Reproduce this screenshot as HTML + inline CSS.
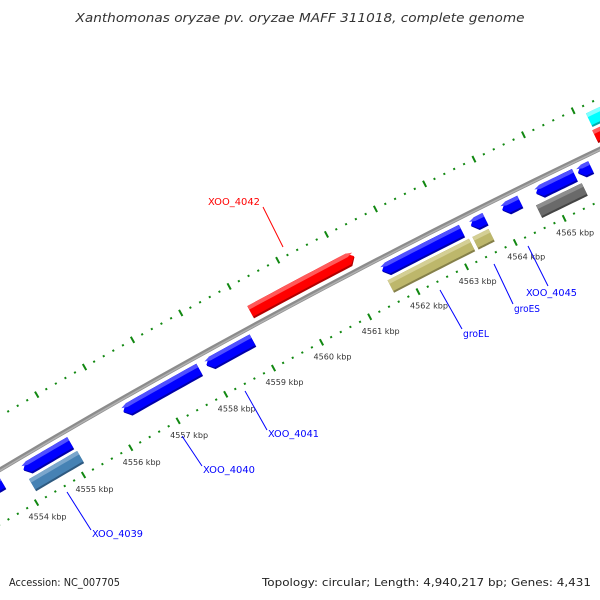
<!DOCTYPE html>
<html><head><meta charset="utf-8"><style>
html,body{margin:0;padding:0;background:#fff;}
svg{display:block;font-family:"DejaVu Sans","Liberation Sans",sans-serif;}
</style></head><body>
<svg id="map" width="600" height="600" viewBox="0 0 600 600" xmlns="http://www.w3.org/2000/svg">
<rect x="0" y="0" width="600" height="600" fill="#fff"/>
<text x="300" y="22" text-anchor="middle" font-size="12" font-style="italic" fill="#333" textLength="449" lengthAdjust="spacingAndGlyphs">Xanthomonas oryzae pv. oryzae MAFF 311018, complete genome</text>
<g id="ticks"></g>
<g id="backbone"></g>
<g id="genes"></g>
<g id="kbplabels"></g>
<g>
<line x1="67" y1="492" x2="91" y2="530" stroke="#00f" stroke-width="1"/>
<text x="92" y="537" font-size="10" fill="#00f" textLength="51" lengthAdjust="spacingAndGlyphs">XOO_4039</text>
<line x1="182" y1="436" x2="202" y2="466" stroke="#00f" stroke-width="1"/>
<text x="203" y="473" font-size="10" fill="#00f" textLength="52" lengthAdjust="spacingAndGlyphs">XOO_4040</text>
<line x1="245" y1="391" x2="267" y2="430" stroke="#00f" stroke-width="1"/>
<text x="268" y="437" font-size="10" fill="#00f" textLength="51" lengthAdjust="spacingAndGlyphs">XOO_4041</text>
<line x1="263" y1="207" x2="283" y2="247" stroke="#f00" stroke-width="1"/>
<text x="208" y="205" font-size="10" fill="#f00" textLength="52" lengthAdjust="spacingAndGlyphs">XOO_4042</text>
<line x1="440" y1="290" x2="462" y2="329" stroke="#00f" stroke-width="1"/>
<text x="463" y="337" font-size="10" fill="#00f" textLength="26" lengthAdjust="spacingAndGlyphs">groEL</text>
<line x1="494" y1="264" x2="513" y2="304" stroke="#00f" stroke-width="1"/>
<text x="514" y="312" font-size="10" fill="#00f" textLength="26" lengthAdjust="spacingAndGlyphs">groES</text>
<line x1="528" y1="246" x2="548" y2="286" stroke="#00f" stroke-width="1"/>
<text x="526" y="296" font-size="10" fill="#00f" textLength="51" lengthAdjust="spacingAndGlyphs">XOO_4045</text>
</g>
<text x="9" y="586" font-size="11" fill="#222" textLength="111" lengthAdjust="spacingAndGlyphs">Accession: NC_007705</text>
<text x="591" y="586" font-size="11" fill="#222" text-anchor="end" textLength="329" lengthAdjust="spacingAndGlyphs">Topology: circular; Length: 4,940,217 bp; Genes: 4,431</text>
</svg>
<script>
// ---- data ----
const geneStart  = [4553.25,4554.10,4554.10,4556.21,4557.95,4559.12,4561.59,4561.60,4563.41,4563.34,4564.05,4564.74,4564.64,4565.59,4566.19,4566.16];
const geneEnd    = [4553.65,4555.09,4555.12,4557.80,4558.91,4561.26,4563.22,4563.27,4563.70,4563.67,4564.41,4565.52,4565.57,4565.85,4567.60,4567.60];
const geneStrand = [-1,-1,0,-1,-1,1,-1,0,-1,0,-1,-1,0,-1,0,1];
const geneRow    = [-1,-1,-2,-1,-1,1,-1,-2,-1,-2,-1,-1,-2,-1,2,1];
const geneColor  = ['blue','blue','steel','blue','blue','red','blue','khaki','blue','khaki','blue','blue','gray','blue','cyan','red'];
const tickKbp    = [4554,4555,4556,4557,4558,4559,4560,4561,4562,4563,4564,4565];
const tickLabels = ['4554 kbp','4555 kbp','4556 kbp','4557 kbp','4558 kbp','4559 kbp','4560 kbp','4561 kbp','4562 kbp','4563 kbp','4564 kbp','4565 kbp'];

// ---- geometry (axis functions) ----
const CX=3807, CY=6870, K0=4560, TH0=-118.1, DPK=0.422;
const R_BB=7447, R_IN=7400, R_OUT=7493;
const ROWS={'-1':[7427,7441],'-2':[7410,7424],'1':[7453,7467],'2':[7470,7485]};
const PAL={blue:['#0000ff','#5050ff','#0000a8'],red:['#ff0000','#ff5a5a','#b00000'],
 steel:['#4682b4','#7aa6cc','#2f5a80'],khaki:['#bdb76b','#d4cf95','#85804a'],
 gray:['#6a6a6a','#8e8e8e','#444'],cyan:['#00ffff','#80ffff','#00b0b0']};
const NS='http://www.w3.org/2000/svg';
function pt(k,r){const t=(TH0+(k-K0)*DPK)*Math.PI/180;return [CX+r*Math.cos(t),CY+r*Math.sin(t)];}
function arcPts(k1,k2,r,n){const a=[];for(let i=0;i<=n;i++){a.push(pt(k1+(k2-k1)*i/n,r));}return a;}
function fmt(a){return a.map(p=>p[0].toFixed(2)+','+p[1].toFixed(2)).join(' ');}

const tg=document.getElementById('ticks');
function tickLine(k,r,half,w){
  const a=pt(k,r-half),b=pt(k,r+half);
  const l=document.createElementNS(NS,'line');
  l.setAttribute('x1',a[0]);l.setAttribute('y1',a[1]);l.setAttribute('x2',b[0]);l.setAttribute('y2',b[1]);
  l.setAttribute('stroke','#118811');l.setAttribute('stroke-width',w);
  
  
  tg.appendChild(l);
}
for(let i=4552*5;i<=4568*5;i++){
  const k=i/5, major=(i%5===0);
  [R_IN,R_OUT].forEach(r=>{ if(major) tickLine(k,r,3.5,2); else tickLine(k,r,1,2); });
}

// backbone
const bg=document.getElementById('backbone');
[[4.5,'#8c8c8c'],[1.5,'#b0b0b0']].forEach(([w,c],i)=>{
  const p=document.createElementNS(NS,'polyline');
  p.setAttribute('points',fmt(arcPts(4552,4568,R_BB-(i?0.8:0),60)));
  p.setAttribute('fill','none');p.setAttribute('stroke',c);p.setAttribute('stroke-width',w);
  
  
  bg.appendChild(p);
});

// genes
const gg=document.getElementById('genes');
const HEAD=0.11;
function shape(k1,k2,ri,ro,dir){
  const n=12, rm=(ri+ro)/2;
  if(dir<0){
    const a=k1+HEAD;
    return [...arcPts(a,k2,ro,n),...arcPts(k2,a,ri,n),pt(k1,rm)];
  } else if(dir>0){
    const b=k2-HEAD;
    return [...arcPts(k1,b,ro,n),pt(k2,rm),...arcPts(b,k1,ri,n)];
  }
  return [...arcPts(k1,k2,ro,n),...arcPts(k2,k1,ri,n)];
}
for(let i=0;i<geneStart.length;i++){
  const [ri,ro]=ROWS[String(geneRow[i])];
  const pal=PAL[geneColor[i]];
  const g=document.createElementNS(NS,'g');
  
  
  const layers=[[ri,ro,pal[2]],[ri+2,ro,pal[0]],[ro-4,ro,pal[1]]];
  layers.forEach(([a,b,c])=>{
    const p=document.createElementNS(NS,'polygon');
    p.setAttribute('points',fmt(shape(geneStart[i],geneEnd[i],a,b,geneStrand[i])));
    p.setAttribute('fill',c);
    
    
    g.appendChild(p);
  });
  gg.appendChild(g);
}

// kbp labels
const kg=document.getElementById('kbplabels');
tickKbp.forEach((k,i)=>{
  const p=pt(k,R_IN);
  const t=document.createElementNS(NS,'text');
  t.setAttribute('x',(p[0]-8).toFixed(1));t.setAttribute('y',(p[1]+17).toFixed(1));
  t.setAttribute('font-size','8');t.setAttribute('fill','#333');
  t.setAttribute('textLength','38');t.setAttribute('lengthAdjust','spacingAndGlyphs');
  t.textContent=tickLabels[i];
  
  
  kg.appendChild(t);
});
</script>
</body></html>
